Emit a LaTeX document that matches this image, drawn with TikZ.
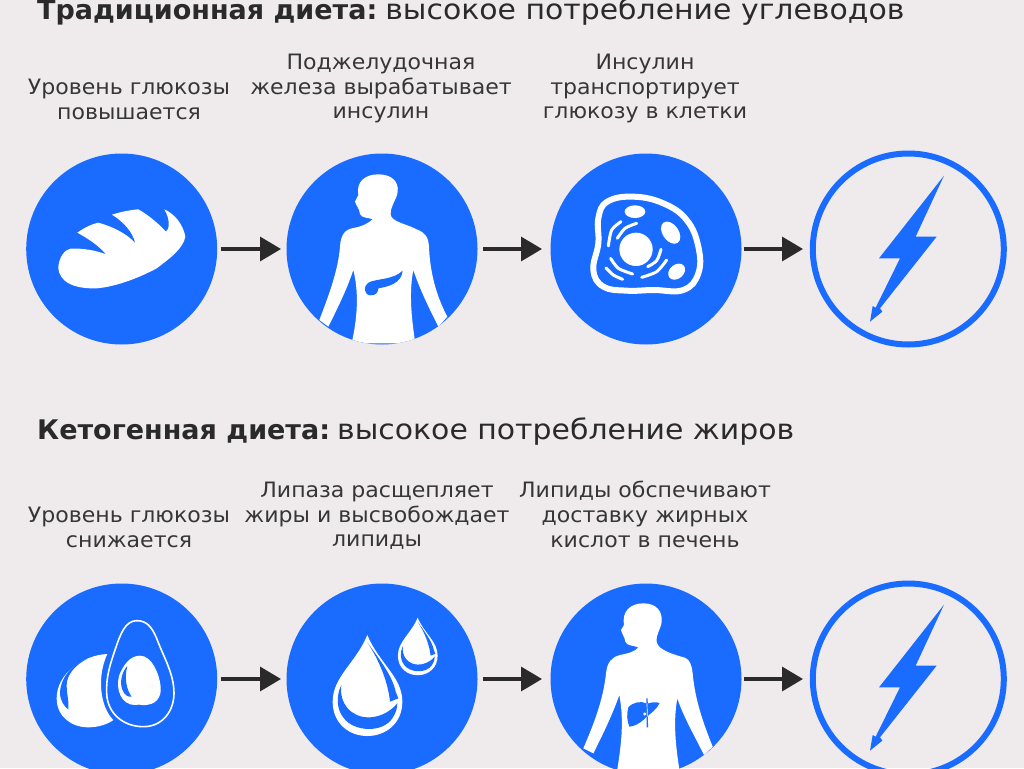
\documentclass[tikz,border=0pt]{standalone}
\usepackage{fontspec}
\setmainfont{DejaVu Sans}
\newfontfamily\headplain[FakeStretch=1.068]{DejaVu Sans}
\newfontfamily\capplain[FakeStretch=1.04]{DejaVu Sans}
\usetikzlibrary{arrows.meta}
\definecolor{pagebg}{HTML}{EFEBED}
\definecolor{vivid}{HTML}{1A6BFF}
\definecolor{ink}{HTML}{2A2A2A}
\definecolor{captionink}{HTML}{363636}
\tikzset{
  bluedisc/.style={circle,fill=vivid,minimum size=191pt,inner sep=0pt,outer sep=0pt},
  ringdisc/.style={circle,draw=vivid,line width=6pt,minimum size=191pt,inner sep=0pt,outer sep=0pt},
  flow/.style={draw=ink,line width=3.5pt,-{Triangle[length=21pt,width=24pt]},shorten <=3.5pt,shorten >=5.5pt},
  captiontext/.style={align=center,text=captionink,inner sep=0pt,font=\capplain\fontsize{21.2}{24.7}\selectfont},
  headline/.style={anchor=base west,text=ink,inner sep=0pt},
  warc/.style={draw=white,line width=3pt,line cap=round}
}
\newcommand{\headbold}[1]{{\fontsize{27}{30}\selectfont\bfseries #1}}
\newcommand{\headrest}[1]{{\headplain\fontsize{28}{30}\selectfont #1}}
\newcommand{\zapbolt}[2]{%
  \begin{scope}[shift={(#1,#2)},x=0.33333pt,y=-0.33333pt]
    \fill[vivid] (1272,107)--(1187,290)--(1250,290)--(1080,505)--(1087,515)--(1050,545)--(1058,498)--(1067,503)--(1140,355)--(1077,355)--cycle;
  \end{scope}}
\newcommand{\waterdrop}[3]{%
  \begin{scope}[shift={(#1,#2)},x=#3*0.33333pt,y=-#3*0.33333pt]
    \fill[white] (0,0) .. controls (-35,85) and (-104,125) .. (-104,200) .. controls (-104,265) and (-55,303) .. (0,303) .. controls (55,303) and (105,265) .. (105,200) .. controls (105,125) and (35,85) .. (0,0) -- cycle;
    \fill[vivid] (-78,150) .. controls (-95,185) and (-92,225) .. (-70,250) .. controls (-40,290) and (45,295) .. (75,250) .. controls (85,235) and (90,220) .. (90,205) .. controls (65,235) and (30,248) .. (0,247) .. controls (-50,245) and (-85,205) .. (-78,150) -- cycle;
    \fill[vivid] (0,22) .. controls (30,65) and (75,120) .. (85,170) -- (93,190) -- (68,200) .. controls (62,140) and (35,75) .. (0,22) -- cycle;
  \end{scope}}
\begin{document}
\begin{tikzpicture}[x=1pt,y=-1pt]
\clip (0,0) rectangle (1024,768);
\fill[pagebg] (0,0) rectangle (1024,768);

% titles
\node[headline] (titleA) at (37,20) {\headbold{Традиционная диета:}\hspace{8pt}\headrest{высокое потребление углеводов}};
\node[headline] (titleB) at (37,439) {\headbold{Кетогенная диета:}\hspace{7pt}\headrest{высокое потребление жиров}};

% captions
\node[captiontext] (capA1) at (129,99.5) {Уровень глюкозы\\повышается};
\node[captiontext] (capA2) at (381,88.5) {Поджелудочная\\железа вырабатывает\\инсулин};
\node[captiontext] (capA3) at (645,88.5) {Инсулин\\транспортирует\\глюкозу в клетки};
\node[captiontext] (capB1) at (129,527.5) {Уровень глюкозы\\снижается};
\node[captiontext] (capB2) at (377,516) {Липаза расщепляет\\жиры и высвобождает\\липиды};
\node[captiontext] (capB3) at (645,514.5) {Липиды обспечивают\\доставку жирных\\кислот в печень};

% discs
\node[bluedisc] (a1) at (121.7,249) {};
\node[bluedisc] (a2) at (382,249) {};
\node[bluedisc] (a3) at (646,249) {};
\node[ringdisc] (a4) at (908.3,249) {};
\node[bluedisc] (b1) at (121.7,679) {};
\node[bluedisc] (b2) at (382,679) {};
\node[bluedisc] (b3) at (646,679) {};
\node[ringdisc] (b4) at (908.3,679) {};

% connectors
\draw[flow] (a1) -- (a2);
\draw[flow,shorten <=5.5pt,shorten >=8.5pt] (a2) -- (a3);
\draw[flow,shorten <=2.5pt,shorten >=9.8pt] (a3) -- (a4);
\draw[flow] (b1) -- (b2);
\draw[flow,shorten <=5.5pt,shorten >=8.5pt] (b2) -- (b3);
\draw[flow,shorten <=2.5pt,shorten >=9.8pt] (b3) -- (b4);

% bread
\begin{scope}[shift={(0,140)},x=0.33333pt,y=-0.33333pt]
  \fill[white] (175,380) .. controls (178,350) and (195,328) .. (212,326) .. controls (250,324) and (290,332) .. (318,343)
    .. controls (295,315) and (262,295) .. (232,278) .. controls (255,262) and (275,252) .. (295,248)
    .. controls (345,262) and (385,285) .. (406,310) .. controls (398,275) and (370,245) .. (336,224)
    .. controls (365,215) and (390,210) .. (415,208) .. controls (445,225) and (475,250) .. (497,274)
    .. controls (510,270) and (510,235) .. (493,208) .. controls (525,222) and (550,255) .. (556,290)
    .. controls (550,325) and (510,355) .. (470,385) .. controls (420,412) and (350,440) .. (290,445)
    .. controls (230,447) and (175,430) .. (175,380) -- cycle;
\end{scope}

% body with pancreas
\begin{scope}
  \clip (a2.center) circle (95.5);
  \begin{scope}[shift={(0,140)},x=0.33333pt,y=-0.33333pt]
    \fill[white] (1075,165) .. controls (1068,125) and (1095,103) .. (1135,103) .. controls (1175,103) and (1197,125) .. (1193,155) .. controls (1190,180) and (1172,195) .. (1172,222) .. controls (1172,245) and (1215,250) .. (1250,268) .. controls (1275,278) and (1285,290) .. (1287,320) .. controls (1290,400) and (1310,470) .. (1342,530)
      -- (1315,560) .. controls (1290,510) and (1260,450) .. (1240,390)
      .. controls (1228,450) and (1232,520) .. (1246,610)
      -- (1055,610) .. controls (1075,520) and (1075,450) .. (1060,390)
      .. controls (1040,450) and (1010,510) .. (985,560)
      -- (958,540) .. controls (985,470) and (1015,390) .. (1020,320) .. controls (1022,285) and (1035,268) .. (1060,264) .. controls (1085,260) and (1105,250) .. (1118,238)
      .. controls (1105,232) and (1085,235) .. (1080,222) .. controls (1078,205) and (1070,200) .. (1065,185) -- cycle;
    \fill[vivid] (1208,392) .. controls (1180,420) and (1130,415) .. (1105,428) .. controls (1090,438) and (1090,462) .. (1110,466) .. controls (1128,468) and (1135,455) .. (1135,445) .. controls (1165,440) and (1205,430) .. (1208,392) -- cycle;
  \end{scope}
\end{scope}

% cell
\begin{scope}[shift={(520,140)},x=0.33333pt,y=-0.33333pt]
  \draw[white,line width=6pt] plot[smooth cycle,tension=0.7] coordinates {(235,235) (262,185) (340,170) (430,190) (500,240) (535,320) (535,400) (490,450) (400,450) (320,452) (250,440) (220,390) (235,310)};
  \fill[white] (348,328) circle (50);
  \fill[white] (345,215) ellipse [x radius=31,y radius=19];
  \fill[white,rotate around={35:(452,278)}] (452,278) ellipse [x radius=24,y radius=37];
  \fill[white,rotate around={40:(470,395)}] (470,395) ellipse [x radius=28,y radius=21];
  \draw[warc] plot[smooth] coordinates {(265,318) (275,270) (303,245)};
  \draw[warc] plot[smooth] coordinates {(292,295) (315,265) (350,250)};
  \draw[warc] plot[smooth] coordinates {(383,380) (410,362) (423,328)};
  \draw[warc] plot[smooth] coordinates {(365,412) (410,395) (440,360)};
  \draw[warc] plot[smooth] coordinates {(272,355) (295,385) (338,402)};
  \draw[warc] plot[smooth] coordinates {(258,384) (280,405) (308,418)};
\end{scope}

% bolts
\zapbolt{520}{140}
\zapbolt{520}{569}

% avocado
\begin{scope}[shift={(0,570)},x=0.33333pt,y=-0.33333pt]
  \fill[white] (322,252) .. controls (250,255) and (170,310) .. (170,385) .. controls (170,440) and (215,472) .. (265,472) .. controls (295,472) and (325,462) .. (340,450) .. controls (300,410) and (290,320) .. (322,252) -- cycle;
  \fill[vivid] (262,266) .. controls (215,280) and (178,330) .. (180,372) .. controls (182,395) and (195,412) .. (205,418) .. controls (208,395) and (200,375) .. (200,345) .. controls (200,315) and (225,285) .. (262,266) -- cycle;
  \draw[white,line width=1.6pt] (410,152) .. controls (375,152) and (360,195) .. (345,240) .. controls (330,285) and (318,320) .. (320,370) .. controls (322,430) and (370,470) .. (430,470) .. controls (490,470) and (522,420) .. (522,370) .. controls (522,310) and (490,260) .. (470,205) .. controls (455,170) and (440,152) .. (410,152) -- cycle;
  \fill[white] (420,257) .. controls (390,257) and (370,285) .. (358,315) .. controls (345,360) and (365,405) .. (405,405) .. controls (415,405) and (420,402) .. (425,405) .. controls (470,408) and (485,380) .. (482,350) .. controls (478,310) and (455,257) .. (420,257) -- cycle;
  \fill[vivid] (382,288) .. controls (362,310) and (358,345) .. (370,365) .. controls (375,375) and (385,382) .. (395,380) .. controls (380,360) and (372,325) .. (382,288) -- cycle;
\end{scope}

% drops
\waterdrop{367.33}{635}{1}
\waterdrop{417.67}{617.67}{0.57}

% body with liver
\begin{scope}
  \clip (b3.center) circle (95.5);
  \begin{scope}[shift={(520,570)},x=0.33333pt,y=-0.33333pt]
    \fill[white] (312,165) .. controls (305,125) and (330,100) .. (370,100) .. controls (410,100) and (428,125) .. (425,155) .. controls (422,180) and (408,190) .. (410,215) .. controls (412,240) and (465,255) .. (495,263) .. controls (510,270) and (515,285) .. (518,310) .. controls (525,390) and (550,460) .. (578,530)
      -- (552,555) .. controls (525,500) and (490,440) .. (472,385)
      .. controls (460,450) and (465,520) .. (480,610)
      -- (290,610) .. controls (305,520) and (312,450) .. (298,375)
      .. controls (275,440) and (245,500) .. (220,550)
      -- (190,535) .. controls (220,465) and (250,390) .. (258,310) .. controls (262,275) and (275,262) .. (300,255) .. controls (325,250) and (345,245) .. (355,232)
      .. controls (340,226) and (320,228) .. (316,215) .. controls (314,200) and (307,195) .. (303,180) -- cycle;
    \fill[vivid] (325,412) .. controls (340,395) and (365,393) .. (378,400) -- (386,400) .. controls (395,396) and (410,396) .. (419,399) .. controls (410,420) and (390,430) .. (372,448) .. controls (360,460) and (340,470) .. (328,470) .. controls (320,450) and (320,430) .. (325,412) -- cycle;
    \draw[vivid,line width=1.4pt] (381,385) -- (382,472);
    \draw[white,line width=0.7pt] (381,400) -- (382,440);
    \fill[white] (374,432) circle (5);
  \end{scope}
\end{scope}
\end{tikzpicture}
\end{document}
